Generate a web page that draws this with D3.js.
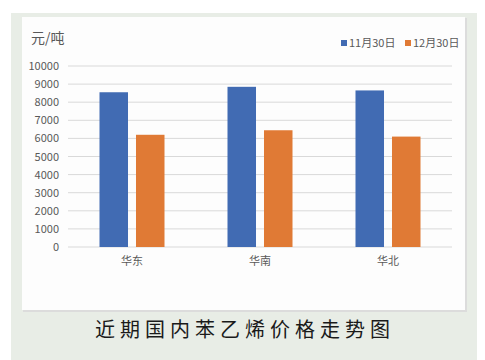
<!DOCTYPE html>
<html><head><meta charset="utf-8">
<script src="https://cdn.jsdelivr.net/npm/d3@7"></script>
<style>body{margin:0;background:#fff;} svg{display:block;}</style>
</head><body>
<svg id="c" width="485" height="360"></svg>
<script>
const categories = ["华东", "华南", "华北"];
const seriesNames = ["11月30日", "12月30日"];
const nov30 = [8550, 8850, 8650];
const dec30 = [6200, 6450, 6100];
const yTicks = [0,1000,2000,3000,4000,5000,6000,7000,8000,9000,10000];
const colors = ["#416bb3", "#e07a35"];
const unitLabel = "元/吨";
const title = "近期国内苯乙烯价格走势图";

const svg = d3.select("#c");
const font = "'Noto Sans CJK SC', 'Noto Sans', sans-serif";
svg.append("rect").attr("x",11).attr("y",13).attr("width",466).attr("height",347).attr("fill","#e8ede6");
svg.append("rect").attr("x",23).attr("y",18).attr("width",444).attr("height",294).attr("fill","#dcdcdc");
svg.append("rect").attr("x",22).attr("y",17).attr("width",443).attr("height",293).attr("fill","#fdfdfd");

const x0 = d3.scaleBand().domain(categories).range([68,452]).paddingInner(0).paddingOuter(0);
const x1 = d3.scaleBand().domain(seriesNames).range([31.5, 96.5]).paddingInner(0.219).paddingOuter(0);
const y = d3.scaleLinear().domain([0,10000]).range([247,66]);

const g = svg.append("g");
g.selectAll("line.grid").data(yTicks).enter().append("line")
  .attr("x1",68).attr("x2",452).attr("y1",d=>y(d)).attr("y2",d=>y(d))
  .attr("stroke","#d9d9d9").attr("stroke-width",1);

const yAxis = d3.axisLeft(y).tickValues(yTicks).tickFormat(d3.format("d")).tickSize(0).tickPadding(9);
const ya = svg.append("g").attr("transform","translate(68,0)").call(yAxis);
ya.select(".domain").remove();
ya.selectAll("text").attr("font-family",font).attr("font-size",11).attr("fill","#595959");

const xAxis = d3.axisBottom(x0).tickSize(0).tickPadding(10);
const xa = svg.append("g").attr("transform","translate(0,247)").call(xAxis);
xa.select(".domain").remove();
xa.selectAll("text").attr("font-family",font).attr("font-size",11).attr("fill","#595959");

const data = categories.map((c,i)=>({cat:c, vals:[nov30[i], dec30[i]]}));
const grp = svg.selectAll("g.grp").data(data).enter().append("g")
  .attr("transform",d=>`translate(${x0(d.cat)},0)`);
grp.selectAll("rect").data(d=>d.vals.map((v,j)=>({name:seriesNames[j], v, j}))).enter().append("rect")
  .attr("x",d=>x1(d.name)).attr("width",x1.bandwidth())
  .attr("y",d=>y(d.v)).attr("height",d=>y(0)-y(d.v))
  .attr("fill",d=>colors[d.j]);

svg.append("text").attr("x",31).attr("y",43).text(unitLabel)
  .attr("font-family",font).attr("font-size",14).attr("fill","#595959");

const legX = [341, 405];
seriesNames.forEach((n,i)=>{
  svg.append("rect").attr("x",legX[i]).attr("y",40).attr("width",6).attr("height",6).attr("fill",colors[i]);
  svg.append("text").attr("x",legX[i]+8).attr("y",47).text(n)
    .attr("font-family",font).attr("font-size",11).attr("fill","#595959");
});

svg.append("text").attr("x",245).attr("y",337).attr("text-anchor","middle").text(title)
  .attr("font-family",font).attr("font-size",20).attr("letter-spacing",5).attr("fill","#1a1a1a");
</script>
</body></html>
